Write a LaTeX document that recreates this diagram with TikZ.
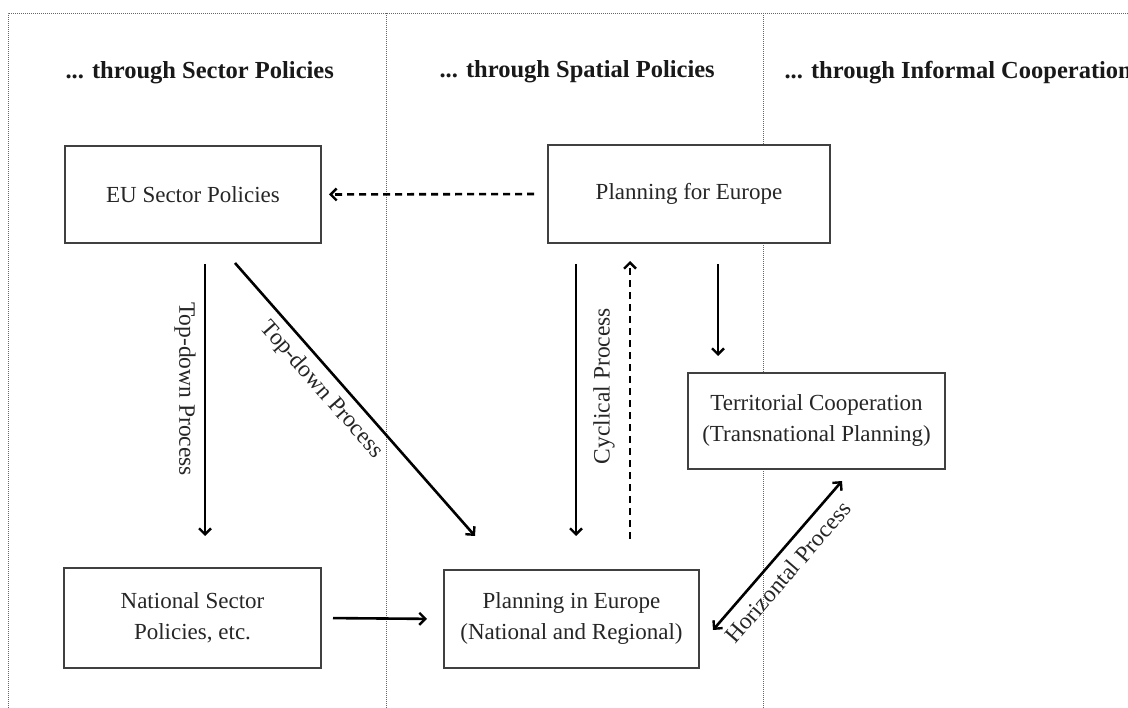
\documentclass[tikz,border=0pt]{standalone}
\usepackage{fontspec}
\setmainfont{Liberation Serif}
\usetikzlibrary{arrows.meta}
\tikzset{
  box/.style={draw=black!75, line width=2pt, fill=white, text=black!85, align=center,
              font=\fontsize{23}{31}\selectfont, inner sep=0pt},
  heading/.style={anchor=base west, text=black!90, font=\fontsize{24.5}{28}\selectfont\bfseries},
  lbl/.style={text=black!85, font=\fontsize{23.5}{26}\selectfont, inner sep=3pt},
  divider/.style={draw=black!60, line width=0.7pt, dash pattern=on 1pt off 1pt},
  tip/.style={},
  arr/.style={draw=black, line width=2.6pt, -{Straight Barb[length=6pt,width=12pt,line width=2.4pt]}},
  dasharr/.style={arr, dash pattern=on 7pt off 5pt},
  twoarr/.style={draw=black, line width=2.6pt,
                 {Straight Barb[length=6pt,width=12pt,line width=2.4pt]}-{Straight Barb[length=6pt,width=12pt,line width=2.4pt]}}
}
\begin{document}
\begin{tikzpicture}[x=1pt, y=-1pt]
\useasboundingbox (0,0) rectangle (1128,708);

% column frame
\coordinate (tl) at (8,13);
\coordinate (tr) at (1128,13);
\coordinate (bl) at (8,708);
\draw[divider] (bl) -- (tl) -- (tr);
\draw[divider] (386,13) -- (386,708);
\draw[divider] (763,13) -- (763,708);

% column headings
\node[heading] (h1) at (62,79) {... through Sector Policies};
\node[heading] (h2) at (436,78) {... through Spatial Policies};
\node[heading] (h3) at (781,79) {... through Informal Cooperation};

% boxes
\node[box, minimum width=256pt, minimum height=97pt] (eu) at (193,194.5) {EU Sector Policies};
\node[box, minimum width=282pt, minimum height=98pt] (pfe) at (689,194) {Planning for Europe};
\node[box, minimum width=257pt, minimum height=96pt] (terr) at (816.5,421)
  {Territorial Cooperation\\(Transnational Planning)};
\node[box, minimum width=257pt, minimum height=100pt] (nsp) at (192.5,618)
  {National Sector\\Policies, etc.};
\node[box, minimum width=255pt, minimum height=98pt] (pie) at (571.5,619)
  {Planning in Europe\\(National and Regional)};

% connectors
\draw[dasharr, shorten <=13pt, shorten >=7pt] (pfe.west) -- (eu.east);

\draw[arr] ([shift={(12,20)}]eu.south) -- ([shift={(12.5,-31)}]nsp.north)
  node[lbl, sloped, below=5pt, pos=0.46] {Top-down Process};

\draw[arr] ([shift={(42,19)}]eu.south) -- ([shift={(-96.5,-33)}]pie.north)
  node[lbl, sloped, below=4pt, pos=0.42] {Top-down Process};

\draw[arr] ([shift={(-113,20)}]pfe.south) -- ([shift={(4.5,-33)}]pie.north);

\draw[dasharr] ([shift={(58.5,-30)}]pie.north) -- ([shift={(-59,17)}]pfe.south)
  node[lbl, sloped, above=11pt, pos=0.55] {Cyclical Process};

\draw[arr] ([shift={(29,20)}]pfe.south) -- ([shift={(-98.5,-16)}]terr.north);

\draw[arr, shorten <=11pt, shorten >=16pt] (nsp.east) -- (pie.west);

\draw[twoarr] ([shift={(13,11)}]pie.east) -- ([shift={(25.5,11)}]terr.south)
  node[lbl, sloped, below=6pt, pos=0.47] {Horizontal Process};
\end{tikzpicture}
\end{document}
